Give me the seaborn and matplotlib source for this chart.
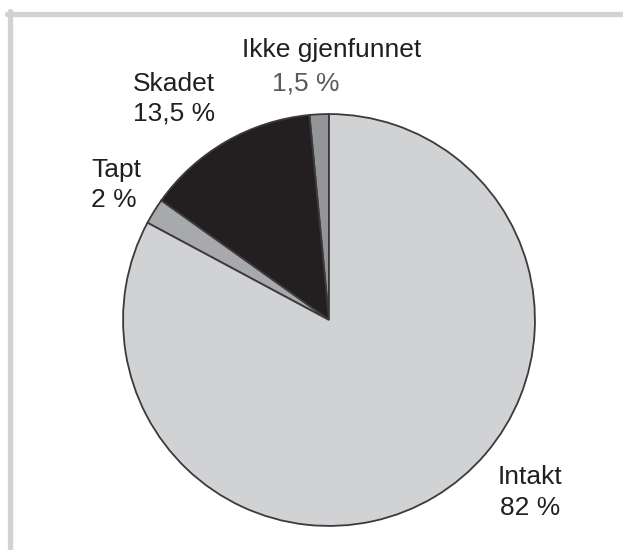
import matplotlib
matplotlib.use("Agg")
import matplotlib.pyplot as plt
from matplotlib.lines import Line2D
import seaborn as sns

# Data (counter-clockwise from the top)
categories = ["Ikke gjenfunnet", "Skadet", "Tapt", "Intakt"]
shares = [1.5, 13.5, 2, 82]
value_labels = ["1,5 %", "13,5 %", "2 %", "82 %"]
slice_colors = ["#939598", "#231f20", "#a7a9ac", "#d1d2d4"]

sns.set_theme(style="white")
plt.rcParams["font.family"] = ["Liberation Sans", "DejaVu Sans"]

W, H = 623, 550
fig = plt.figure(figsize=(W / 100, H / 100), dpi=100)
fig.patch.set_facecolor("white")

# pie centre (329, 320) px from top-left, radius 208 px
cx, cy, r = 329, 320, 208
ax = fig.add_axes([(cx - r) / W, (H - cy - r) / H, 2 * r / W, 2 * r / H])
ax.pie(shares, colors=slice_colors, startangle=90, counterclock=True,
       radius=1, wedgeprops=dict(edgecolor="#3c3a3b", linewidth=1.3))
ax.set_xlim(-1.01, 1.01)
ax.set_ylim(-1.01, 1.01)
ax.set_aspect("equal")
ax.axis("off")

# labels: (name position, value position) in px from top-left
label_pos = {
    "Ikke gjenfunnet": ((332, 50), (306, 84)),
    "Skadet": ((174, 84), (174, 113)),
    "Tapt": ((116, 170), (114, 200)),
    "Intakt": ((530, 477), (530, 508)),
}
for name, val in zip(categories, value_labels):
    (nx, ny), (vx, vy) = label_pos[name]
    val_color = "#58595b" if name == "Ikke gjenfunnet" else "#231f20"
    fig.text(nx / W, 1 - ny / H, name, ha="center", va="center",
             fontsize=19, color="#231f20")
    fig.text(vx / W, 1 - vy / H, val, ha="center", va="center",
             fontsize=19, color=val_color)

# light grey frame on top and left
frame_c = "#d1d2d4"
fig.add_artist(Line2D([7 / W, 1], [1 - 13.5 / H, 1 - 13.5 / H],
                      transform=fig.transFigure, color=frame_c, linewidth=3.8))
fig.add_artist(Line2D([9.5 / W, 9.5 / W], [0, 1 - 11 / H],
                      transform=fig.transFigure, color=frame_c, linewidth=3.8))

fig.savefig("out.png", dpi=100)
